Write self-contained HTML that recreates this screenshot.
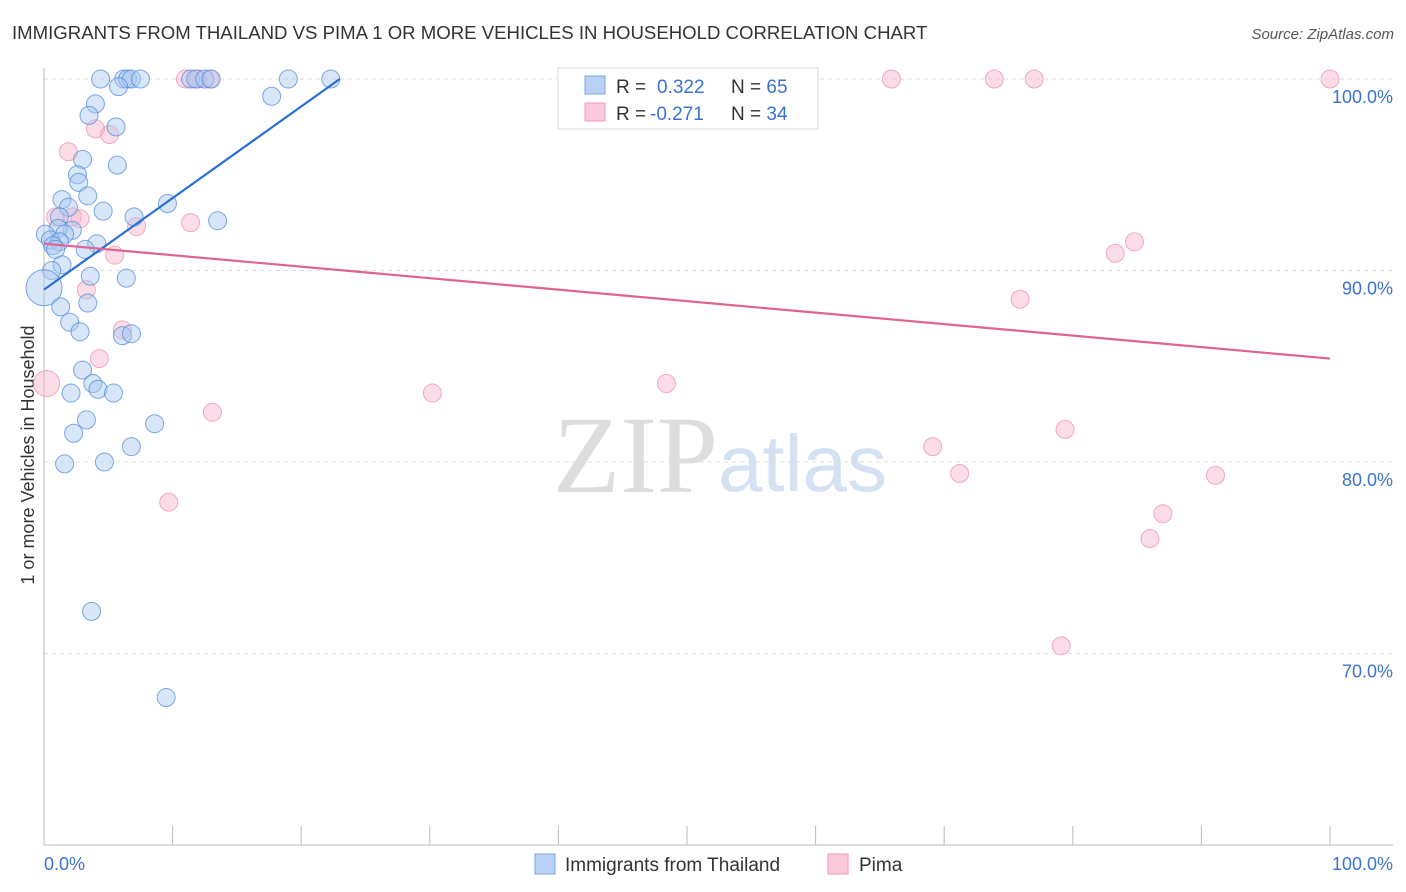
<!DOCTYPE html>
<html><head><meta charset="utf-8"><style>
body{margin:0;background:#fff;font-family:"Liberation Sans",sans-serif;}
svg{display:block}
</style></head><body>
<svg id="chart" width="1406" height="892">
<text x="12" y="39" font-size="18.6" fill="#333">IMMIGRANTS FROM THAILAND VS PIMA 1 OR MORE VEHICLES IN HOUSEHOLD CORRELATION CHART</text>
<text x="1394" y="39" font-size="15" fill="#555" font-style="italic" text-anchor="end">Source: ZipAtlas.com</text>
<text transform="translate(34,455) rotate(-90)" font-size="18" fill="#333" text-anchor="middle">1 or more Vehicles in Household</text>
<text x="553" y="492" font-size="110" fill="#ddd" font-family="Liberation Serif,serif">ZIP</text>
<text x="718" y="491" font-size="80" fill="#d4e1f3">atlas</text>
<g id="grid"></g><g id="axes"></g><g id="pts"></g><g id="lines"></g>
<g>
<rect x="558" y="68" width="260" height="61" fill="#fff" stroke="#ddd"/>
<rect x="585" y="76" width="20" height="18" fill="#b8d1f5" stroke="#7aa7e6"/>
<rect x="585" y="103" width="20" height="18" fill="#fbc9d8" stroke="#f09ab5"/>
<text x="616" y="93" font-size="19" fill="#333">R = <tspan fill="#3a73d0" x="657">0.322</tspan><tspan fill="#333" x="731">N = </tspan><tspan fill="#3a73d0">65</tspan></text>
<text x="616" y="120" font-size="19" fill="#333">R = <tspan fill="#3a73d0" x="650">-0.271</tspan><tspan fill="#333" x="731">N = </tspan><tspan fill="#3a73d0">34</tspan></text>
</g>
<g>
<rect x="535" y="854" width="20" height="20" fill="#b8d1f5" stroke="#7aa7e6"/>
<text x="565" y="871" font-size="19" fill="#333">Immigrants from Thailand</text>
<rect x="828" y="854" width="20" height="20" fill="#fbc9d8" stroke="#f09ab5"/>
<text x="859" y="871" font-size="19" fill="#333">Pima</text>
</g>
</svg>
<script>
const yTicks=[100,90,80,70];
const xTickLabels=["0.0%","100.0%"];
const blueX=[4.4,6.2,6.5,6.8,7.5,11.4,11.8,12.5,13.0,19.0,22.3,5.8,17.7,4.0,3.5,5.6,3.0,5.7,2.6,2.7,1.4,3.4,1.9,4.6,7.0,9.6,13.5,1.2,2.2,1.1,1.6,0.1,0.5,1.2,0.7,4.1,3.2,0.9,1.4,0.6,3.6,6.4,0,1.3,3.4,2.0,2.8,6.1,6.8,3.0,3.8,4.2,5.4,2.1,3.3,8.6,2.3,6.8,1.6,4.7,3.7,9.5];
const blueY=[100,100,100,100,100,100,100,100,100,100,100,99.6,99.1,98.7,98.1,97.5,95.8,95.5,95.0,94.6,93.7,93.9,93.3,93.1,92.8,93.5,92.6,92.8,92.1,92.2,91.9,91.9,91.6,91.5,91.3,91.4,91.1,91.1,90.3,90.0,89.7,89.6,89.1,88.1,88.3,87.3,86.8,86.6,86.7,84.8,84.1,83.8,83.6,83.6,82.2,82.0,81.5,80.8,79.9,80.0,72.2,67.7];
const pinkX=[11.0,12.0,12.9,65.9,73.9,77.0,100,4.0,5.1,1.9,0.9,2.2,2.8,7.2,11.4,5.5,83.3,84.8,75.9,3.3,6.1,4.3,0.2,30.2,48.4,13.1,69.1,79.4,71.2,91.1,9.7,87.0,86.0,79.1];
const pinkY=[100,100,100,100,100,100,100,97.4,97.1,96.2,92.8,92.8,92.7,92.3,92.5,90.8,90.9,91.5,88.5,89.0,86.9,85.4,84.1,83.6,84.1,82.6,80.8,81.7,79.4,79.3,77.9,77.3,76.0,70.4];
const blueTrend=[[0,89.0],[23,100]];
const pinkTrend=[[0,91.4],[100,85.4]];
const NS="http://www.w3.org/2000/svg";
const sx=v=>44+v*12.86, sy=v=>79+(100-v)*19.15;
function mk(tag,attrs,parent){const e=document.createElementNS(NS,tag);for(const k in attrs)e.setAttribute(k,attrs[k]);document.getElementById(parent).appendChild(e);return e;}
yTicks.forEach(t=>{
 const l=mk('line',{x1:44,x2:1393,y1:sy(t),y2:sy(t),stroke:'#ddd','stroke-dasharray':'4,4'},'grid');
 
 
 const tx=mk('text',{x:1393,y:sy(t)+24,'font-size':18,fill:'#3a73d0','text-anchor':'end'},'grid');
 tx.textContent=t.toFixed(1)+'%';
 
 
});
mk('line',{x1:44,x2:44,y1:68,y2:845,stroke:'#bbb'},'axes');
mk('line',{x1:44,x2:1393,y1:845,y2:845,stroke:'#bbb'},'axes');
for(let i=0;i<=10;i++){mk('line',{x1:sx(i*10),x2:sx(i*10),y1:826,y2:845,stroke:'#bbb'},'axes');}
xTickLabels.forEach((s,i)=>{
 const t=mk('text',{x:i?1393:44,y:870,'font-size':18,fill:'#3a73d0','text-anchor':i?'end':'start'},'axes');
 t.textContent=s;
 
 
});
function pts(X,Y,fill,stroke,name){X.forEach((x,i)=>{
 const r=(x===0&&name==='blue-point')?18:(x<0.5&&name==='pink-point')?13:9;
 const c=mk('circle',{cx:sx(x),cy:sy(Y[i]),r:r,fill:fill,'fill-opacity':0.45,stroke:stroke,'stroke-opacity':0.7,'stroke-width':1},'pts');
 
 
});}
pts(pinkX,pinkY,'#f8b4c8','#ec8aa8','pink-point');
pts(blueX,blueY,'#a9c8f2','#4a86d8','blue-point');
const bl=mk('line',{x1:sx(blueTrend[0][0]),y1:sy(blueTrend[0][1]),x2:sx(blueTrend[1][0]),y2:sy(blueTrend[1][1]),stroke:'#2a6fd6','stroke-width':2.2},'lines');


const pl=mk('line',{x1:sx(pinkTrend[0][0]),y1:sy(pinkTrend[0][1]),x2:sx(pinkTrend[1][0]),y2:sy(pinkTrend[1][1]),stroke:'#e0628e','stroke-width':2.2},'lines');


</script>
</body></html>
